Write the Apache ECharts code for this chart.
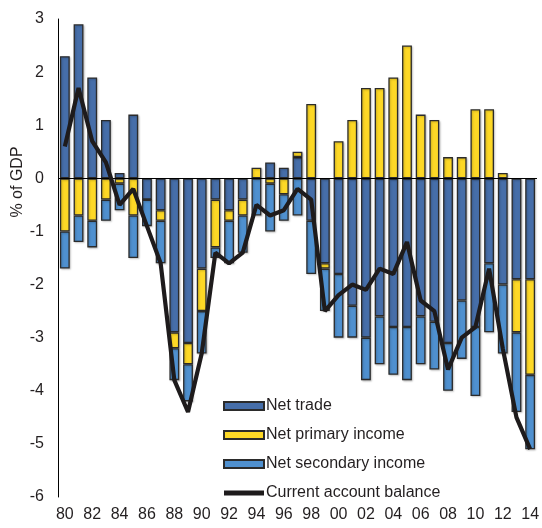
<!DOCTYPE html>
<html>
<head>
<meta charset="utf-8">
<script src="https://cdn.jsdelivr.net/npm/echarts@6/dist/echarts.min.js"></script>
<style>
  html, body { margin: 0; padding: 0; background: #fff; }
  #chart { width: 542px; height: 528px; }
</style>
</head>
<body>
<div id="chart"></div>
<script>
// years 1980..2014, shown as two digits
const years = ['80','81','82','83','84','85','86','87','88','89',
  '90','91','92','93','94','95','96','97','98','99',
  '00','01','02','03','04','05','06','07','08','09',
  '10','11','12','13','14'];

// % of GDP
const netTrade = [2.3, 2.9, 1.9, 1.1, 0.1, 1.2, -0.4, -0.6, -2.9, -3.1,
  -1.7, -0.4, -0.6, -0.4, 0, 0.3, 0.2, 0.4, -0.8, -1.6,
  -1.8, -2.4, -3.0, -2.6, -2.8, -2.8, -2.6, -2.7, -3.1, -2.3,
  -2.8, -1.6, -2.0, -1.9, -1.9];
const netPrimary = [-1.0, -0.7, -0.8, -0.4, -0.1, -0.7, 0, -0.2, -0.3, -0.4,
  -0.8, -0.9, -0.2, -0.3, 0.2, -0.1, -0.3, 0.1, 1.4, -0.1,
  0.7, 1.1, 1.7, 1.7, 1.9, 2.5, 1.2, 1.1, 0.4, 0.4,
  1.3, 1.3, 0.1, -1.0, -1.8];
const netSecondary = [-0.7, -0.5, -0.5, -0.4, -0.5, -0.8, -0.5, -0.8, -0.6, -0.7,
  -0.8, -0.2, -0.8, -0.7, -0.7, -0.9, -0.5, -0.7, -1.0, -0.8,
  -1.2, -0.6, -0.8, -0.9, -0.9, -1.0, -0.9, -0.9, -0.9, -1.1,
  -1.3, -1.3, -1.3, -1.5, -1.4];
const currentAccount = [0.6, 1.7, 0.7, 0.3, -0.5, -0.2, -0.9, -1.6, -3.8, -4.4,
  -3.3, -1.4, -1.6, -1.4, -0.5, -0.7, -0.6, -0.2, -0.4, -2.5,
  -2.2, -2.0, -2.1, -1.7, -1.8, -1.2, -2.3, -2.5, -3.6, -3.0,
  -2.8, -1.7, -3.2, -4.5, -5.1];

const yTicks = { min: -6, max: 3, step: 1 };

const textColor = '#231f20';
const font = 'Liberation Sans, Arial, sans-serif';
const edge = '#2b2b2b';
const lineColor = '#1e1b1c';

function barSeries(name, data, color) {
  return {
    name: name,
    type: 'bar',
    stack: 'ca',
    data: data,
    barWidth: '72%',
    itemStyle: {
      color: color, borderColor: edge, borderWidth: 1.3,
      shadowColor: 'rgba(0,0,0,0.22)', shadowBlur: 2, shadowOffsetX: 1, shadowOffsetY: 1
    },
    emphasis: { disabled: true }
  };
}

const myChart = echarts.init(document.getElementById('chart'), null, { renderer: 'canvas' });

const trade = barSeries('Net trade', netTrade, '#466ea9');
// zero line across the plot
trade.markLine = {
  silent: true,
  symbol: 'none',
  label: { show: false },
  lineStyle: { color: '#000', type: 'solid', width: 1, shadowBlur: 0, shadowColor: 'transparent' },
  data: [{ yAxis: 0 }]
};

myChart.setOption({
  animation: false,
  textStyle: { fontFamily: font },
  grid: { left: 58, right: 2, top: 19, bottom: 31 },
  graphic: [{
    type: 'text',
    x: 18, y: 182,
    rotation: Math.PI / 2,
    style: {
      text: '% of GDP',
      fill: textColor,
      font: '16px ' + font,
      align: 'center',
      verticalAlign: 'middle'
    }
  }],
  legend: {
    orient: 'vertical',
    left: 218,
    top: 393,
    itemWidth: 40,
    itemHeight: 8,
    itemGap: 13,
    textStyle: { fontSize: 16, color: textColor, lineHeight: 16, padding: [0, 0, 0, -3] },
    data: [
      { name: 'Net trade', icon: 'rect' },
      { name: 'Net primary income', icon: 'rect' },
      { name: 'Net secondary income', icon: 'rect' },
      {
        name: 'Current account balance',
        icon: 'path://M0 0 H40 V5 H0 Z',
        itemStyle: { color: lineColor, borderWidth: 0 }
      }
    ]
  },
  xAxis: {
    type: 'category',
    data: years,
    axisLine: { show: false, onZero: false },
    axisTick: { show: false },
    axisLabel: { interval: 1, fontSize: 16, color: textColor, margin: 10 }
  },
  yAxis: {
    type: 'value',
    min: yTicks.min,
    max: yTicks.max,
    interval: yTicks.step,
    axisLine: { show: true, lineStyle: { color: '#000', width: 1 } },
    axisTick: { show: false },
    splitLine: { show: false },
    axisLabel: { fontSize: 16, color: textColor, margin: 14 }
  },
  series: [
    trade,
    barSeries('Net primary income', netPrimary, '#fdd826'),
    barSeries('Net secondary income', netSecondary, '#4f90cf'),
    {
      name: 'Current account balance',
      type: 'line',
      data: currentAccount,
      symbol: 'none',
      z: 5,
      lineStyle: { color: lineColor, width: 4.2 },
      itemStyle: { color: lineColor },
      emphasis: { disabled: true }
    }
  ]
});
</script>
</body>
</html>
